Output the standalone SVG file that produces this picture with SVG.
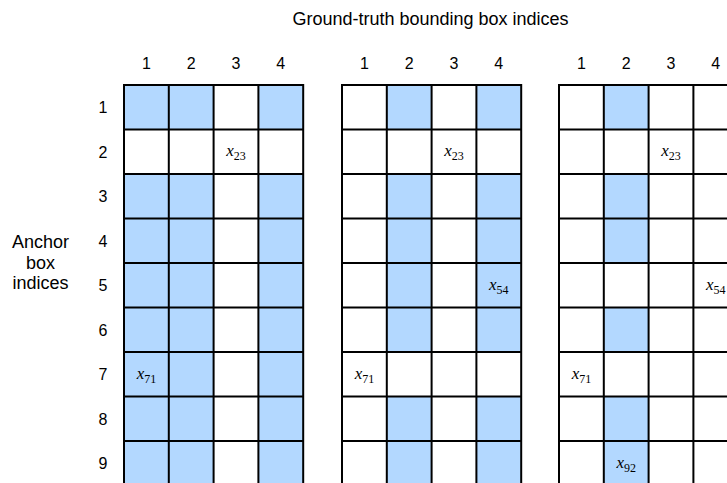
<svg xmlns="http://www.w3.org/2000/svg" width="727" height="483" viewBox="0 0 727 483">
<defs>
<style>
.lbl{font-family:"Liberation Sans",Arial,sans-serif;fill:#000;text-anchor:middle}
.title{font-size:18px}
.num{font-size:16px}
.blue{fill:#b3d8ff;stroke:none}
.grid{fill:none;stroke:#000;stroke-width:2;stroke-linecap:square}
.m{font-family:"Liberation Serif","Times New Roman",serif;font-size:17px;fill:#000;text-anchor:middle}
.m .v{font-style:italic}
.m .s{font-size:12px}
</style>
<path id="lines" class="grid" d="M0,0V401M44.8,0V401M89.6,0V401M134.4,0V401M179.2,0V401M0,0H179.2M0,44.5H179.2M0,89H179.2M0,133.5H179.2M0,178H179.2M0,222.5H179.2M0,267H179.2M0,311.5H179.2M0,356H179.2"/>
</defs>
<rect width="727" height="483" fill="#fff"/>

<g id="title">
<text class="lbl title" x="430.5" y="25">Ground-truth bounding box indices</text>
</g>

<g id="axis-label">
<text class="lbl title" x="40.5" y="248">Anchor</text>
<text class="lbl title" x="40.5" y="268.5">box</text>
<text class="lbl title" x="40.5" y="289">indices</text>
</g>

<g id="row-labels" class="lbl num">
<text x="103" y="113">1</text>
<text x="103" y="157.5">2</text>
<text x="103" y="202">3</text>
<text x="103" y="246.5">4</text>
<text x="103" y="291">5</text>
<text x="103" y="335.5">6</text>
<text x="103" y="380">7</text>
<text x="103" y="424.5">8</text>
<text x="103" y="469">9</text>
</g>

<g id="col-labels" class="lbl num">
<text x="146.4" y="69">1</text>
<text x="191.2" y="69">2</text>
<text x="236" y="69">3</text>
<text x="280.8" y="69">4</text>
<text x="364.4" y="69">1</text>
<text x="409.2" y="69">2</text>
<text x="454" y="69">3</text>
<text x="498.8" y="69">4</text>
<text x="581.4" y="69">1</text>
<text x="626.2" y="69">2</text>
<text x="671" y="69">3</text>
<text x="715.8" y="69">4</text>
</g>

<g id="grid1" transform="translate(124,85)">
<rect class="blue" x="0" y="0" width="44.8" height="44.5"/>
<rect class="blue" x="44.8" y="0" width="44.8" height="44.5"/>
<rect class="blue" x="134.4" y="0" width="44.8" height="44.5"/>
<rect class="blue" x="0" y="89" width="44.8" height="312"/>
<rect class="blue" x="44.8" y="89" width="44.8" height="312"/>
<rect class="blue" x="134.4" y="89" width="44.8" height="312"/>
<use href="#lines"/>
<text class="m" x="112" y="71.3"><tspan class="v">x</tspan><tspan class="s" dy="4">23</tspan></text>
<text class="m" x="22.4" y="293.8"><tspan class="v">x</tspan><tspan class="s" dy="4">71</tspan></text>
</g>

<g id="grid2" transform="translate(342,85)">
<rect class="blue" x="44.8" y="0" width="44.8" height="44.5"/>
<rect class="blue" x="134.4" y="0" width="44.8" height="44.5"/>
<rect class="blue" x="44.8" y="89" width="44.8" height="178"/>
<rect class="blue" x="134.4" y="89" width="44.8" height="178"/>
<rect class="blue" x="44.8" y="311.5" width="44.8" height="90"/>
<rect class="blue" x="134.4" y="311.5" width="44.8" height="90"/>
<use href="#lines"/>
<text class="m" x="112" y="71.3"><tspan class="v">x</tspan><tspan class="s" dy="4">23</tspan></text>
<text class="m" x="156.8" y="204.8"><tspan class="v">x</tspan><tspan class="s" dy="4">54</tspan></text>
<text class="m" x="22.4" y="293.8"><tspan class="v">x</tspan><tspan class="s" dy="4">71</tspan></text>
</g>

<g id="grid3" transform="translate(559,85)">
<rect class="blue" x="44.8" y="0" width="44.8" height="44.5"/>
<rect class="blue" x="44.8" y="89" width="44.8" height="89"/>
<rect class="blue" x="44.8" y="222.5" width="44.8" height="44.5"/>
<rect class="blue" x="44.8" y="311.5" width="44.8" height="90"/>
<use href="#lines"/>
<text class="m" x="112" y="71.3"><tspan class="v">x</tspan><tspan class="s" dy="4">23</tspan></text>
<text class="m" x="156.8" y="204.8"><tspan class="v">x</tspan><tspan class="s" dy="4">54</tspan></text>
<text class="m" x="22.4" y="293.8"><tspan class="v">x</tspan><tspan class="s" dy="4">71</tspan></text>
<text class="m" x="67.2" y="382.8"><tspan class="v">x</tspan><tspan class="s" dy="4">92</tspan></text>
</g>
</svg>
